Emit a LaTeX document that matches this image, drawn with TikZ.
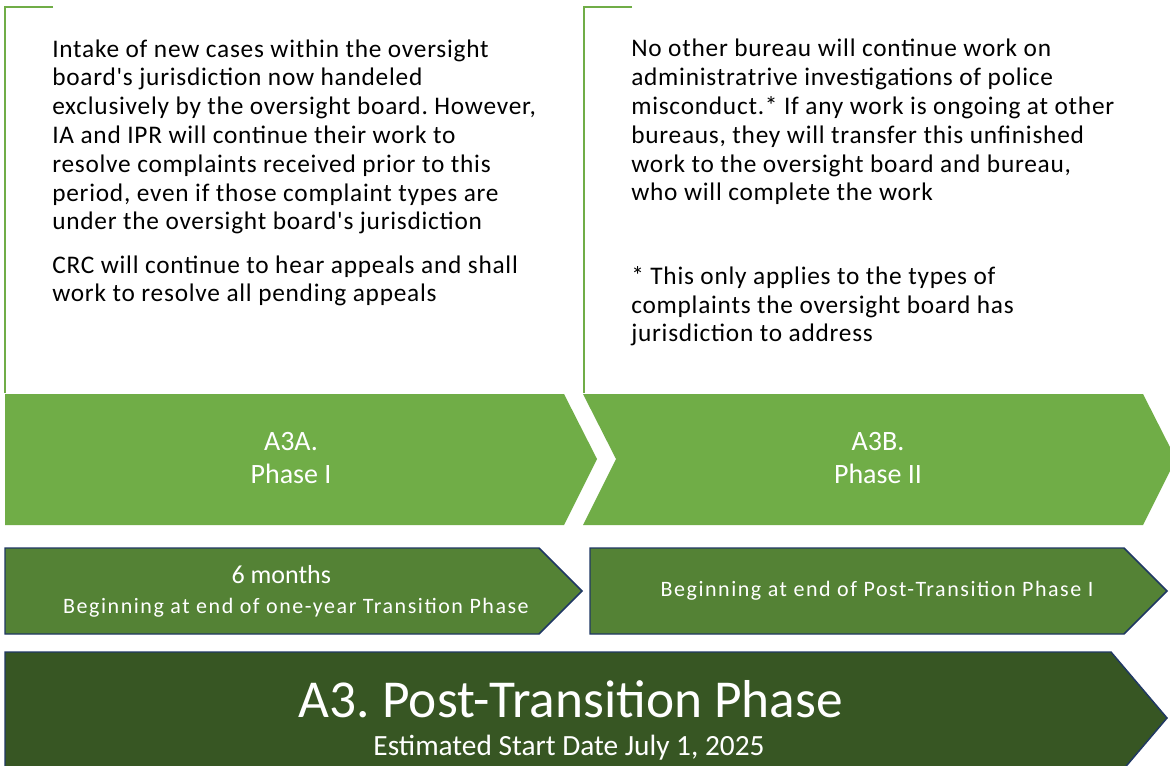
\documentclass[tikz,border=0pt]{standalone}
\usepackage{fontspec}
\setmainfont{Carlito}
\newfontfamily\bodyfont{Carlito}[LetterSpace=3]
\newfontfamily\spacedfont{Carlito}[LetterSpace=7]
\definecolor{lightgreen}{HTML}{70AD47}
\definecolor{midgreen}{HTML}{548235}
\definecolor{darkgreen}{HTML}{375623}
\definecolor{navyline}{HTML}{203864}
\frenchspacing
\tikzset{
  bracketline/.style={draw=lightgreen, line width=1.5pt},
  chevronshape/.style={fill=lightgreen, draw=none},
  periodshape/.style={fill=midgreen, draw=navyline, line width=1.1pt},
  bannershape/.style={fill=darkgreen, draw=navyline, line width=1.1pt},
  % multi-line nodes below are anchored at the baseline of their last line
  bodytext/.style={inner sep=0pt, anchor=base west, align=left, text=black,
    font=\bodyfont\fontsize{19}{21.6}\selectfont},
  phaselabel/.style={inner sep=0pt, anchor=base, align=center, text=white,
    font=\fontsize{21}{24.5}\selectfont},
  periodlabel/.style={inner sep=0pt, anchor=base, align=center, text=white,
    font=\spacedfont\fontsize{16.5}{22.5}\selectfont},
}
\begin{document}
\begin{tikzpicture}[x=0.75pt, y=-0.75pt]
  \useasboundingbox (0,0) rectangle (1170,766);
  \clip (0,0) rectangle (1170,766);
  \fill[white] (0,0) rectangle (1170,766);

  % text panels with their corner brackets
  \draw[bracketline] (53,7) -- (5,7) -- (5,393);
  \draw[bracketline] (632,7) -- (584,7) -- (584,393);

  \node[bodytext] (introA) at (52,230)
    {Intake of new cases within the oversight\\
     board's jurisdiction now handeled\\
     exclusively by the oversight board. However,\\
     IA and IPR will continue their work to\\
     resolve complaints received prior to this\\
     period, even if those complaint types are\\
     under the oversight board's jurisdiction};
  \node[bodytext] (crcA) at (52,302)
    {CRC will continue to hear appeals and shall\\
     work to resolve all pending appeals};

  \node[bodytext] (introB) at (631,201)
    {No other bureau will continue work on\\
     administratrive investigations of police\\
     misconduct.* If any work is ongoing at other\\
     bureaus, they will transfer this unfinished\\
     work to the oversight board and bureau,\\
     who will complete the work};
  \node[bodytext] (noteB) at (631,342)
    {* This only applies to the types of\\
     complaints the oversight board has\\
     jurisdiction to address};

  % phase chevrons
  \path[chevronshape] (5,394) -- (564,394) -- (597,459) -- (564,525) -- (5,525) -- cycle;
  \path[chevronshape] (583,394) -- (1143,394) -- (1176,459) -- (1143,525)
    -- (583,525) -- (616,459) -- cycle;
  \node[phaselabel] (phaseA) at (291,483) {A3A.\\Phase I};
  \node[phaselabel] (phaseB) at (878,483) {A3B.\\Phase II};

  % duration arrows
  \draw[periodshape] (5,548) -- (539,548) -- (582,591) -- (539,634) -- (5,634) -- cycle;
  \draw[periodshape] (590,548) -- (1124,548) -- (1167,591) -- (1124,634) -- (590,634) -- cycle;
  \node[periodlabel] (spanA) at (296,613)
    {{\normalfont\fontsize{19.5}{22.5}\selectfont 6 months\hspace*{22pt}}\\
     Beginning at end of one-year Transition Phase};
  \node[periodlabel] (spanB) at (877,596) {Beginning at end of Post-Transition Phase I};

  % overall phase banner
  \draw[bannershape] (5,652) -- (1111,652) -- (1167,718) -- (1111,784) -- (5,784) -- cycle;
  \node[inner sep=0pt, anchor=base, text=white, font=\fontsize{40}{48}\selectfont]
    (title) at (571,717) {A3. Post-Transition Phase};
  \node[inner sep=0pt, anchor=base, text=white, font=\fontsize{22}{26}\selectfont]
    (startdate) at (569,755) {Estimated Start Date July 1, 2025};
\end{tikzpicture}
\end{document}
